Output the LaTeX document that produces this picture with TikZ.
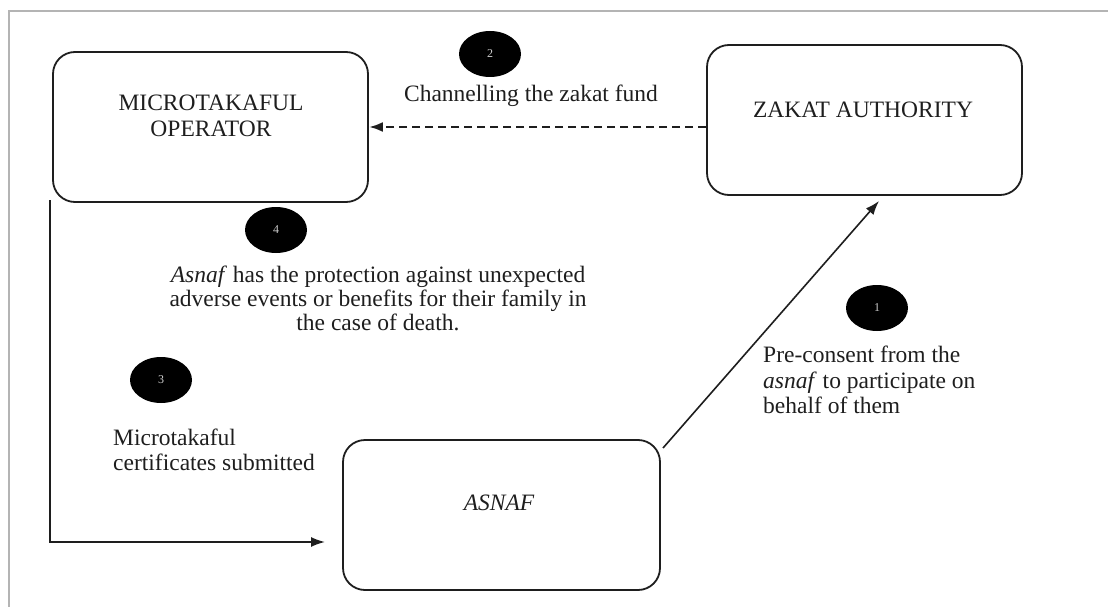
\documentclass[tikz,border=0pt]{standalone}
\usepackage{fontspec}
\setmainfont{Liberation Serif}
\usetikzlibrary{arrows.meta,calc,shapes.geometric}
\definecolor{ink}{HTML}{1E1E1E}
\definecolor{framegray}{HTML}{B4B4B4}
\begin{document}
\begin{tikzpicture}[x=1pt,y=-1pt,
  every node/.style={text=ink, font=\fontsize{23.5}{25.5}\selectfont},
  party/.style={draw=ink, line width=1.8pt, rounded corners=22pt, minimum width=315pt, minimum height=150pt, inner sep=0pt},
  boxtext/.style={align=center, inner sep=0pt},
  badge/.style={ellipse, fill=black, minimum width=62pt, minimum height=46pt, inner sep=0pt, text=white!80!black, font=\fontsize{12}{14}\selectfont},
  note/.style={inner sep=0pt},
  flow/.style={draw=ink, line width=1.6pt, -{Latex[length=14pt,width=10pt]}},
  fund/.style={flow, line width=2.6pt, dash pattern=on 8pt off 5pt}
]
\useasboundingbox (0,0) rectangle (1108,607);
% page frame
\draw[framegray, line width=1.5pt] (9,607) -- (9,11) -- (1108,11);

% the three parties
\node[party] (mto) at (210.5,127) {};
\node[boxtext] (mtoText) at (211,116) {MICROTAKAFUL\\OPERATOR};
\node[party] (zakat) at (864.5,120) {};
\node[boxtext] (zakatText) at (863,110) {ZAKAT AUTHORITY};
\node[party, minimum width=317pt] (asnaf) at (501.5,515) {};
\node[boxtext] (asnafText) at (499,503) {\itshape ASNAF};

% step badges
\node[badge] (b2) at (490,54) {2};
\node[badge] (b4) at (276,230) {4};
\node[badge] (b3) at (161,380) {3};
\node[badge] (b1) at (877,308) {1};

% step descriptions
\node[note] (t2) at (531,96) {Channelling the zakat fund};
\node[note, align=center, font=\fontsize{23.5}{24}\selectfont] (t4) at (378,298) {\textit{Asnaf} has the protection against unexpected\\adverse events or benefits for their family in\\the case of death.};
\node[note, align=left, anchor=west] (t3) at (113,450) {Microtakaful\\certificates submitted};
\node[note, align=left, anchor=west] (t1) at (763,380) {Pre-consent from the\\\textit{asnaf} to participate on\\behalf of them};

% flows
\coordinate (c3start) at (50,200);
\coordinate (c3turn) at (50,542);
\coordinate (c3end) at (325,542);
\draw[flow] (c3start) -- (c3turn) -- (c3end);

\coordinate (c1start) at (663,448);
\coordinate (c1end) at (879,201);
\draw[flow] (c1start) -- (c1end);

\draw[fund] (zakat.west |- 0,127) -- (mto.east |- 0,127);
\end{tikzpicture}
\end{document}
